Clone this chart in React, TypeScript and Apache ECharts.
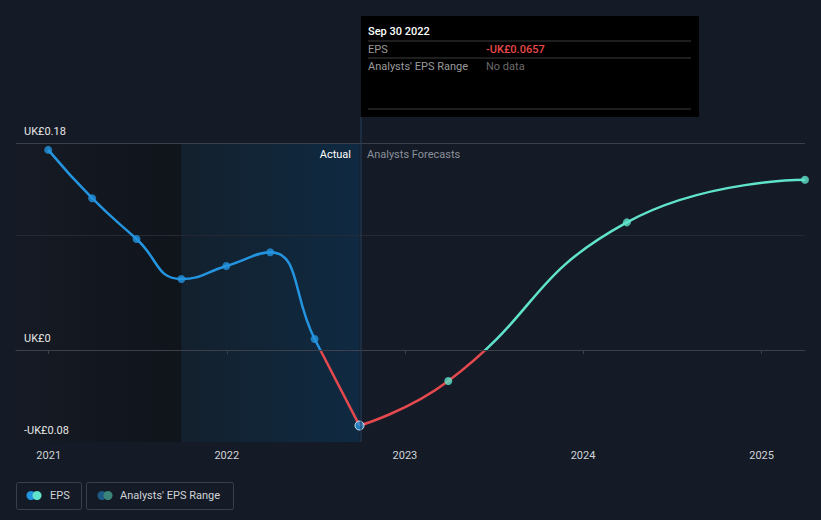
import React, { useEffect, useRef } from "react";
import * as echarts from "echarts";

const actualDates = ["2020-12-31", "2021-03-31", "2021-06-30", "2021-09-30", "2021-12-31", "2022-03-31", "2022-06-30", "2022-09-30"];
const actualEps = [0.174, 0.132, 0.0965, 0.0617, 0.073, 0.085, 0.0096, -0.0657];
const forecastDates = ["2022-09-30", "2023-03-31", "2024-03-31", "2025-03-31"];
const forecastEps = [-0.0657, -0.027, 0.111, 0.148];
const yLabelValues = [-0.08, 0, 0.18];
const yMin = -0.08;
const yMax = 0.18;
const xMin = "2020-10-26";
const xMax = "2025-03-31";
const pastEnd = "2021-09-30";
const actualEnd = "2022-09-30";

const BLUE = "#2394df";
const RED = "#e5484d";
const TEAL = "#5fe3cb";
const FONT = "Roboto, 'Noto Sans', sans-serif";

const ts = (d: string) => new Date(d + "T00:00:00Z").getTime();

export default function App() {
  const ref = useRef<HTMLDivElement>(null);
  useEffect(() => {
    if (!ref.current) return;
    const chart = echarts.init(ref.current, null, { renderer: "svg" });
    const actualData = actualDates.map((d, i) => [ts(d), actualEps[i]]);
    const forecastData = forecastDates.map((d, i) => [ts(d), forecastEps[i]]);
    const fmtY = (v: number) => {
      const shown = yLabelValues.some((t) => Math.abs(t - v) < 1e-6);
      if (!shown) return "";
      if (Math.abs(v) < 1e-6) return "UK£0";
      const s = Math.abs(v).toFixed(2);
      return (v < 0 ? "-" : "") + "UK£" + s;
    };
    chart.setOption({
      animation: false,
      backgroundColor: "#151b26",
      textStyle: { fontFamily: FONT },
      grid: { left: 16, right: 16, top: 143, bottom: 78, containLabel: false },
      xAxis: {
        type: "time",
        min: ts(xMin),
        max: ts(xMax),
        splitNumber: 5,
        z: 10,
        axisLine: { show: true, lineStyle: { color: "#3b404a", width: 1 } },
        axisTick: { show: true, length: 4, lineStyle: { color: "#3b404a" } },
        axisLabel: {
          color: "#d0d3d8",
          fontSize: 11,
          fontFamily: FONT,
          margin: 8,
          formatter: (v: number) => {
            const d = new Date(v);
            return d.getUTCMonth() === 0 && d.getUTCDate() === 1 ? String(d.getUTCFullYear()) : "";
          },
        },
        splitLine: { show: false },
      },
      yAxis: {
        type: "value",
        min: yMin,
        max: yMax,
        interval: 0.02,
        z: 10,
        axisLine: { show: false },
        axisTick: { show: false },
        splitLine: { show: false },
        axisLabel: {
          inside: true,
          color: "#e6e6e6",
          fontSize: 11,
          fontFamily: FONT,
          verticalAlign: "bottom",
          align: "left",
          margin: 8,
          padding: [0, 0, 6, 0],
          hideOverlap: false,
          formatter: fmtY,
        },
      },
      series: [
        {
          id: "actual",
          type: "line",
          data: actualData,
          smooth: 0.5,
          showSymbol: false,
          lineStyle: { width: 2.5, color: BLUE },
          z: 5,
          markArea: {
            silent: true,
            z: 1,
            data: [
              [
                {
                  xAxis: ts(xMin),
                  itemStyle: {
                    color: new echarts.graphic.LinearGradient(0, 0, 1, 0, [
                      { offset: 0, color: "#151a24" },
                      { offset: 1, color: "#10141b" },
                    ]),
                  },
                },
                { xAxis: ts(pastEnd) },
              ],
              [
                {
                  xAxis: ts(pastEnd),
                  itemStyle: {
                    color: new echarts.graphic.LinearGradient(0, 0, 1, 0, [
                      { offset: 0, color: "#13202d" },
                      { offset: 1, color: "#0f2a42" },
                    ]),
                  },
                },
                { xAxis: ts(actualEnd) },
              ],
            ],
          },
        },
        {
          id: "forecast",
          type: "line",
          data: forecastData,
          smooth: 0.5,
          showSymbol: false,
          lineStyle: { width: 2.5, color: TEAL },
          z: 5,
          markLine: {
            silent: true,
            z: 3,
            symbol: "none",
            label: { show: false },
            data: [
              { yAxis: 0.18, lineStyle: { color: "#3a3f48", width: 1, type: "solid" } },
              { yAxis: 0.1, lineStyle: { color: "#242934", width: 1, type: "solid" } },
              { yAxis: 0, lineStyle: { color: "#c9cbce", width: 1.2, type: "solid" } },
            ],
          },
        },
        {
          type: "scatter",
          data: actualData.slice(0, actualData.length - 1),
          symbolSize: 8,
          itemStyle: { color: BLUE },
          z: 6,
        },
        {
          type: "scatter",
          data: forecastData.slice(1),
          symbolSize: 8,
          itemStyle: { color: TEAL },
          z: 6,
        },
        {
          type: "scatter",
          data: [actualData[actualData.length - 1]],
          symbolSize: 9,
          itemStyle: { color: BLUE, borderColor: "#ffffff", borderWidth: 1 },
          z: 7,
        },
      ],
      graphic: [
        { type: "line", z: 20, shape: { x1: 361, y1: 117, x2: 361, y2: 442 }, style: { stroke: "#24415c", lineWidth: 1 } },
        { type: "text", z: 20, x: 351, y: 154, style: { text: "Actual", fill: "#ffffff", font: `11px ${FONT}`, textAlign: "right", textVerticalAlign: "middle" } },
        { type: "text", z: 20, x: 367, y: 154, style: { text: "Analysts Forecasts", fill: "#8a9099", font: `11px ${FONT}`, textAlign: "left", textVerticalAlign: "middle" } },
        {
          type: "group",
          z: 50,
          children: [
            { type: "rect", z: 50, shape: { x: 361, y: 16, width: 338, height: 101 }, style: { fill: "#000000" } },
            { type: "text", z: 51, x: 368, y: 31, style: { text: "Sep 30 2022", fill: "#ffffff", font: `500 11px ${FONT}`, textVerticalAlign: "middle" } },
            { type: "line", z: 51, shape: { x1: 368, y1: 41, x2: 691, y2: 41 }, style: { stroke: "#3d3d3d", lineWidth: 1 } },
            { type: "text", z: 51, x: 368, y: 49, style: { text: "EPS", fill: "#9a9a9a", font: `11px ${FONT}`, textVerticalAlign: "middle" } },
            { type: "text", z: 51, x: 486, y: 49, style: { text: "-UK£0.0657", fill: "#e84848", font: `500 11px ${FONT}`, textVerticalAlign: "middle" } },
            { type: "line", z: 51, shape: { x1: 368, y1: 58, x2: 691, y2: 58 }, style: { stroke: "#3d3d3d", lineWidth: 1 } },
            { type: "text", z: 51, x: 368, y: 66, style: { text: "Analysts' EPS Range", fill: "#9a9a9a", font: `11px ${FONT}`, textVerticalAlign: "middle" } },
            { type: "text", z: 51, x: 486, y: 66, style: { text: "No data", fill: "#6a6a6a", font: `11px ${FONT}`, textVerticalAlign: "middle" } },
            { type: "line", z: 51, shape: { x1: 368, y1: 109, x2: 691, y2: 109 }, style: { stroke: "#3d3d3d", lineWidth: 1 } },
          ],
        },
        {
          type: "group",
          children: [
            { type: "rect", shape: { x: 16.5, y: 482.5, width: 65, height: 27, r: 2 }, style: { fill: "none", stroke: "#3a3f48", lineWidth: 1 } },
            { type: "circle", shape: { cx: 31, cy: 495.5, r: 4.5 }, style: { fill: BLUE } },
            { type: "circle", shape: { cx: 37, cy: 495.5, r: 4.5 }, style: { fill: TEAL } },
            { type: "text", x: 50, y: 495.5, style: { text: "EPS", fill: "#d0d3d8", font: `11px ${FONT}`, textVerticalAlign: "middle" } },
            { type: "rect", shape: { x: 86.5, y: 482.5, width: 147, height: 27, r: 2 }, style: { fill: "none", stroke: "#3a3f48", lineWidth: 1 } },
            { type: "circle", shape: { cx: 102, cy: 495.5, r: 4.5 }, style: { fill: "#1f5a86" } },
            { type: "circle", shape: { cx: 108, cy: 495.5, r: 4.5 }, style: { fill: "#3c8579" } },
            { type: "text", x: 120, y: 495.5, style: { text: "Analysts' EPS Range", fill: "#d0d3d8", font: `11px ${FONT}`, textVerticalAlign: "middle" } },
          ],
        },
      ],
    });

    // colour the lines by sign of the value: use the y axis to find the zero position
    const top = chart.convertToPixel({ gridIndex: 0 }, [ts(xMin), yMax])[1];
    const bottom = chart.convertToPixel({ gridIndex: 0 }, [ts(xMin), yMin])[1];
    const zero = chart.convertToPixel({ gridIndex: 0 }, [ts(xMin), 0])[1];
    const off = (zero - top) / (bottom - top);
    const grad = (pos: string) =>
      new echarts.graphic.LinearGradient(
        0,
        top,
        0,
        bottom,
        [
          { offset: 0, color: pos },
          { offset: off, color: pos },
          { offset: off, color: RED },
          { offset: 1, color: RED },
        ],
        true
      );
    chart.setOption({
      series: [
        { id: "actual", lineStyle: { color: grad(BLUE) } },
        { id: "forecast", lineStyle: { color: grad(TEAL) } },
      ],
    });
    return () => chart.dispose();
  }, []);
  return <div ref={ref} style={{ width: 821, height: 520, position: "absolute", left: 0, top: 0 }} />;
}
